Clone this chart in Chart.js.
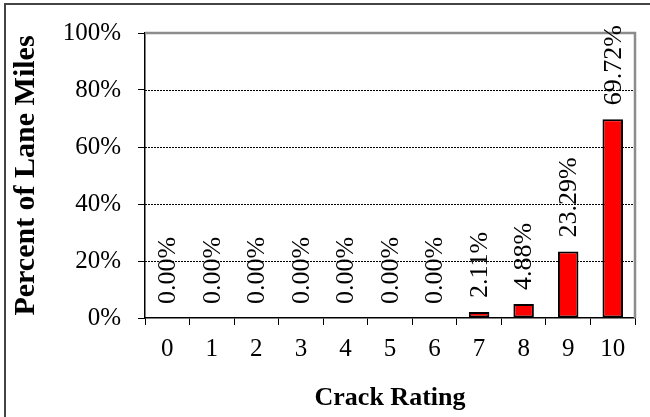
<!DOCTYPE html>
<html>
<head>
<meta charset="utf-8">
<script src="https://cdn.jsdelivr.net/npm/chart.js@4/dist/chart.umd.min.js"></script>
<style>
  html, body { margin: 0; padding: 0; background: #fff; }
  #wrap { width: 650px; height: 417px; }
</style>
</head>
<body>
<div id="wrap"><canvas id="crackChart" width="650" height="417"></canvas></div>
<script>
var ratings = ["0", "1", "2", "3", "4", "5", "6", "7", "8", "9", "10"];
var percentLaneMiles = [0, 0, 0, 0, 0, 0, 0, 2.11, 4.88, 23.29, 69.72];
var yTicks = [0, 20, 40, 60, 80, 100];

var serif = "'Liberation Serif', 'Times New Roman', serif";

// outer frame, dotted grid and the grey plot edge
var framePlugin = {
    id: 'frame',
    beforeDraw: function (chart) {
        var c = chart.ctx;
        c.save();
        c.fillStyle = '#fff';
        c.fillRect(0, 0, chart.width, chart.height);
        c.strokeStyle = '#444';
        c.lineWidth = 2;
        c.beginPath();
        c.moveTo(5, chart.height);
        c.lineTo(5, 4);
        c.lineTo(chart.width, 4);
        c.stroke();
        c.restore();
    },
    beforeDatasetsDraw: function (chart) {
        var c = chart.ctx, a = chart.chartArea, y = chart.scales.y;
        c.save();
        c.strokeStyle = '#000';
        c.lineWidth = 1;
        c.setLineDash([2, 1]);
        yTicks.forEach(function (v) {
            if (v === 0 || v === 100) return;
            var py = Math.round(y.getPixelForValue(v)) + 0.5;
            c.beginPath();
            c.moveTo(a.left, py);
            c.lineTo(a.right, py);
            c.stroke();
        });
        c.setLineDash([]);
        c.strokeStyle = '#8c8c8c';
        c.lineWidth = 2.5;
        c.beginPath();
        c.moveTo(a.left, a.top);
        c.lineTo(a.right, a.top);
        c.lineTo(a.right, a.bottom);
        c.stroke();
        c.restore();
    }
};

// rotated value labels above each bar
var labelPlugin = {
    id: 'barLabels',
    afterDatasetsDraw: function (chart) {
        var c = chart.ctx;
        var meta = chart.getDatasetMeta(0);
        c.save();
        c.fillStyle = '#000';
        c.font = '26px ' + serif;
        c.textAlign = 'left';
        c.textBaseline = 'middle';
        meta.data.forEach(function (bar, i) {
            c.save();
            c.translate(bar.x + 1, bar.y - 14);
            c.rotate(-Math.PI / 2);
            c.fillText(percentLaneMiles[i].toFixed(2) + '%', 0, 0);
            c.restore();
        });
        c.restore();
    }
};

var ctx = document.getElementById('crackChart').getContext('2d');
new Chart(ctx, {
    type: 'bar',
    data: {
        labels: ratings,
        datasets: [{
            data: percentLaneMiles,
            backgroundColor: '#ff0000',
            borderColor: '#000',
            borderWidth: 2,
            borderSkipped: false,
            categoryPercentage: 1,
            barPercentage: 0.46
        }]
    },
    options: {
        responsive: false,
        animation: false,
        devicePixelRatio: 1,
        layout: { padding: { left: 5, top: 33, right: 15, bottom: 0 } },
        plugins: {
            legend: { display: false },
            tooltip: { enabled: false }
        },
        scales: {
            x: {
                grid: { drawOnChartArea: false, color: '#000', tickLength: 7 },
                border: { color: '#000', width: 1.5 },
                ticks: { color: '#000', font: { family: serif, size: 25 }, padding: 9, maxRotation: 0 },
                title: {
                    display: true,
                    text: 'Crack Rating',
                    color: '#000',
                    font: { family: serif, size: 26, weight: 'bold' },
                    padding: { top: 0, bottom: 3 }
                },
                afterFit: function (s) { s.height = 99; }
            },
            y: {
                min: 0,
                max: 100,
                grid: { drawOnChartArea: false, color: '#000', tickLength: 7 },
                border: { color: '#000', width: 1.5 },
                ticks: {
                    stepSize: 20,
                    color: '#000',
                    font: { family: serif, size: 25 },
                    padding: 17,
                    callback: function (v) { return v + '%'; }
                },
                title: {
                    display: true,
                    text: 'Percent of Lane Miles',
                    color: '#000',
                    font: { family: serif, size: 30, weight: 'bold' },
                    padding: { top: 3, bottom: 0 }
                },
                afterFit: function (s) { s.width = 140; }
            }
        }
    },
    plugins: [framePlugin, labelPlugin]
});
</script>
</body>
</html>
